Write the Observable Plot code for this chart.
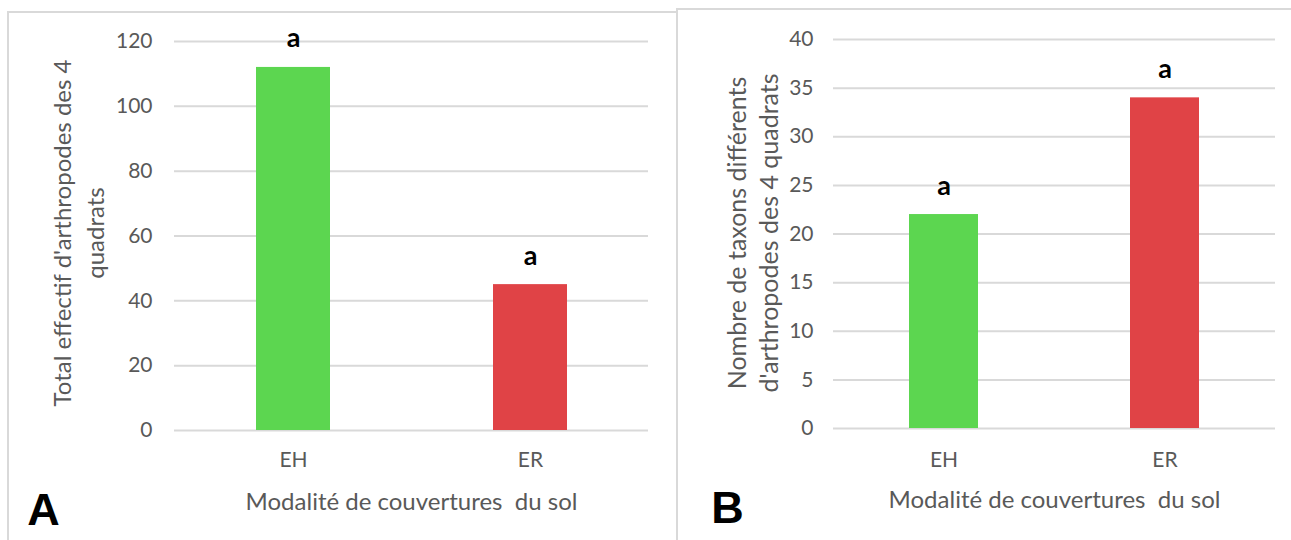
<!DOCTYPE html>
<html>
<head>
<meta charset="utf-8">
<script src="https://cdn.jsdelivr.net/npm/d3@7"></script>
<script src="https://cdn.jsdelivr.net/npm/@observablehq/plot@0.6"></script>
<style>
  html, body { margin: 0; padding: 0; background: #fff; }
  #root { position: relative; width: 1291px; height: 540px; overflow: hidden; background: #fff; }
  .frame { position: absolute; border-left: 2px solid #d9d9d9; border-top: 2px solid #d9d9d9; box-sizing: border-box; }
  .panel { position: absolute; top: 0; }
</style>
</head>
<body>
<div id="root">
  <div class="frame" style="left:7px; top:11px; width:670px; height:540px;"></div>
  <div class="frame" style="left:676px; top:8px; width:620px; height:540px;"></div>
  <div class="panel" id="panelA" style="left:0px;"></div>
  <div class="panel" id="panelB" style="left:678px;"></div>
</div>
<script>
// ---- data ----
const categories = ["EH", "ER"];
const effectifA = [112, 45];
const taxonsB = [22, 34];
const lettersA = ["a", "a"];
const lettersB = ["a", "a"];
const barColors = ["#5cd650", "#e04346"];
const ticksA = [0, 20, 40, 60, 80, 100, 120];
const ticksB = [0, 5, 10, 15, 20, 25, 30, 35, 40];
const xTitle = "Modalité de couvertures  du sol";
const yTitleA = "Total effectif d'arthropodes des 4\nquadrats";
const yTitleB = "Nombre de taxons différents\nd'arthropodes des 4 quadrats";
const panelLabelA = "A";
const panelLabelB = "B";

const gray = "#595959";
const font = "Lato, 'Open Sans', sans-serif";

function makePanel(opts) {
  const rows = categories.map((c, i) => ({cat: c, value: opts.values[i], letter: opts.letters[i], color: barColors[i]}));
  return Plot.plot({
    width: opts.width,
    height: 540,
    marginLeft: opts.ml,
    marginRight: opts.mr,
    marginTop: opts.mt,
    marginBottom: opts.mb,
    style: {fontFamily: font, fontSize: "21px", color: gray, background: "transparent", overflow: "visible"},
    x: {domain: categories, paddingInner: opts.pi, paddingOuter: opts.po, label: null},
    y: {domain: opts.domain, ticks: opts.ticks, label: null},
    marks: [
      Plot.gridY(opts.ticks, {stroke: "#d9d9d9", strokeOpacity: 1, strokeWidth: 2}),
      Plot.barY(rows, {x: "cat", y: "value", fill: "color"}),
      Plot.text(rows, {x: "cat", y: "value", text: "letter", dy: -20, lineAnchor: "bottom", fill: "#000", fontWeight: "bold", fontSize: 27, fontFamily: font}),
      Plot.axisY({ticks: opts.ticks, tickSize: 0, tickPadding: opts.ytp, fontSize: 21, label: null}),
      Plot.axisX({tickSize: 0, tickPadding: opts.xtp, fontSize: 21, label: null}),
      Plot.text([opts.yTitle], {frameAnchor: "left", dx: opts.ytdx, dy: opts.ytdy, rotate: -90, lineAnchor: "middle", textAnchor: "middle", lineHeight: opts.lh, fontSize: opts.ytfs, fill: gray}),
      Plot.text([xTitle], {frameAnchor: "bottom", dy: 72, lineAnchor: "middle", fontSize: 24, fill: gray}),
      Plot.text([opts.panelLabel], {frameAnchor: "bottom-left", dx: opts.pldx, dy: opts.pldy, lineAnchor: "bottom", textAnchor: "middle", fontSize: 45, fontWeight: "bold", fontFamily: "'Liberation Sans', Arial, sans-serif", fill: "#000"})
    ]
  });
}

document.getElementById("panelA").appendChild(makePanel({
  width: 676, ml: 174, mr: 28, mt: 41, mb: 110,
  pi: 0.688, po: 0.344,
  values: effectifA, letters: lettersA, domain: [0, 120], ticks: ticksA,
  ytp: 22, xtp: 22, yTitle: yTitleA, ytdx: -98, ytdy: -3, lh: 1.375, ytfs: 24,
  panelLabel: panelLabelA, pldx: -131, pldy: 94
}));

document.getElementById("panelB").appendChild(makePanel({
  width: 613, ml: 155, mr: 16, mt: 39, mb: 112,
  pi: 0.686, po: 0.343,
  values: taxonsB, letters: lettersB, domain: [0, 40], ticks: ticksB,
  ytp: 20, xtp: 24, yTitle: yTitleB, ytdx: -82, ytdy: -1, lh: 1.3, ytfs: 25,
  panelLabel: panelLabelB, pldx: -106, pldy: 94
}));
</script>
</body>
</html>
